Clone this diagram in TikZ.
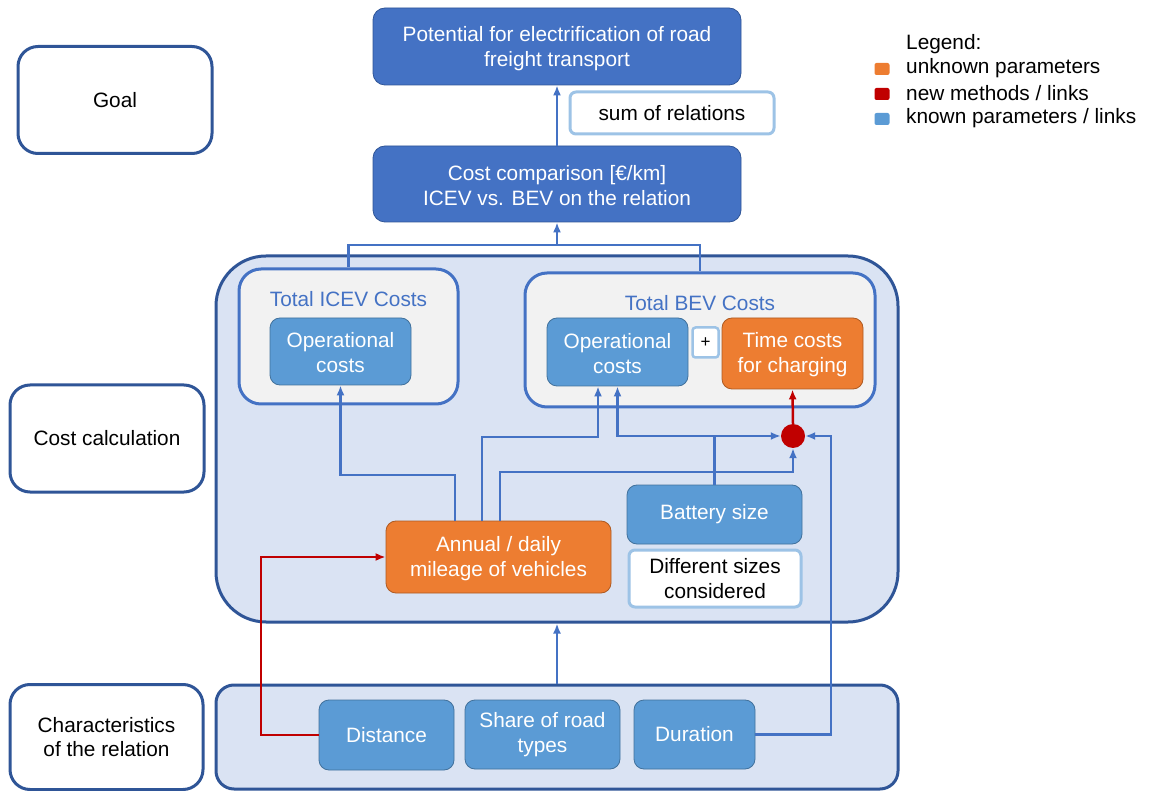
\documentclass[tikz,border=0pt]{standalone}
\usepackage{fontspec}
\setmainfont{Liberation Sans}
\usetikzlibrary{arrows.meta,calc}
\definecolor{dkblue}{HTML}{2F5597}
\definecolor{midblue}{HTML}{4472C4}
\definecolor{ltblue}{HTML}{5B9BD5}
\definecolor{opborder}{HTML}{41719C}
\definecolor{orng}{HTML}{ED7D31}
\definecolor{orborder}{HTML}{AE5A21}
\definecolor{panelfill}{HTML}{DAE3F3}
\definecolor{paleblue}{HTML}{9DC3E6}
\definecolor{grayfill}{HTML}{F2F2F2}
\definecolor{rd}{HTML}{C00000}
\begin{document}
\begin{tikzpicture}[x=1pt,y=-1pt,
  font=\fontsize{20.8}{24.8}\selectfont,
  base/.style={rectangle, align=center, inner sep=0pt},
  lbl/.style={base, draw=dkblue, line width=3pt, fill=white, rounded corners=20pt},
  goalbox/.style={base, fill=midblue, draw=dkblue, line width=0.8pt, text=white, rounded corners=12pt},
  note/.style={base, fill=white, draw=paleblue, line width=3pt, rounded corners=6pt},
  panel/.style={base, fill=panelfill, draw=dkblue, line width=3pt},
  group/.style={base, fill=grayfill, draw=midblue, line width=3pt, rounded corners=22pt},
  known/.style={base, fill=ltblue, draw=opborder, line width=0.8pt, text=white, rounded corners=10pt},
  unknown/.style={base, fill=orng, draw=orborder, line width=0.8pt, text=white, rounded corners=10pt},
  conn/.style={draw=midblue, line width=2.5pt},
  arr/.style={conn, -{Latex[length=10pt,width=8pt]}},
  redarr/.style={draw=rd, line width=2.5pt, -{Latex[length=10pt,width=8pt]}},
  legsq/.style={base, rounded corners=2pt, minimum width=15pt, minimum height=12pt},
  legtxt/.style={anchor=west, inner sep=0pt}
]
\useasboundingbox (0,0) rectangle (1149,791);

% left labels
\node[lbl, minimum width=194pt, minimum height=107pt] (goal) at (115,100) {Goal};
\node[lbl, minimum width=194pt, minimum height=107pt] (costlbl) at (107,438.5) {Cost calculation};
\node[lbl, minimum width=193pt, minimum height=105pt] (charlbl) at (106.5,737) {Characteristics\\of the relation};

% goal level
\node[goalbox, minimum width=368pt, minimum height=77pt] (potential) at (557,46.5) {\rule{0pt}{20pt}Potential for electrification of road\\freight transport};
\node[note, minimum width=204pt, minimum height=42pt] (sum) at (672,113) {sum of relations};
\node[goalbox, minimum width=368pt, minimum height=76pt] (comparison) at (557,184) {\rule{0pt}{18pt}Cost comparison [€/km]\\ICEV vs. BEV on the relation};

% panels
\node[panel, rounded corners=50pt, minimum width=682pt, minimum height=366pt] (costpanel) at (557,439) {};
\node[panel, rounded corners=18pt, minimum width=682pt, minimum height=104pt] (charpanel) at (557,737) {};

% groups
\node[group, minimum width=219pt, minimum height=135pt] (icev) at (348.5,336.5) {};
\node[text=midblue] (icevt) at (348.5,299) {Total ICEV Costs};
\node[known, minimum width=141pt, minimum height=67pt] (icevop) at (340.5,351.5) {\rule{0pt}{18pt}Operational\\costs};

\node[group, minimum width=350pt, minimum height=134pt] (bev) at (700,340) {};
\node[text=midblue] (bevt) at (700,303) {Total BEV Costs};
\node[known, minimum width=141pt, minimum height=68pt] (bevop) at (617.5,352) {\rule{0pt}{18pt}Operational\\costs};
\node[note, rounded corners=3pt, line width=2.5pt, minimum width=26pt, minimum height=30pt, font=\fontsize{17}{20}\selectfont] (plus) at (705.5,342.5) {+};
\node[unknown, minimum width=141pt, minimum height=71pt] (timecost) at (792.5,353.5) {\rule{0pt}{18pt}Time costs\\for charging};

% inner nodes
\node[circle, fill=rd, minimum size=24pt, inner sep=0pt] (dot) at (793,436) {};
\node[unknown, minimum width=225pt, minimum height=72pt] (mileage) at (498.5,557) {\rule{0pt}{18pt}Annual / daily\\mileage of vehicles};
\node[known, minimum width=175pt, minimum height=59pt] (battery) at (714.5,514.5) {Battery size};
\node[note, minimum width=172pt, minimum height=57pt] (sizes) at (715,578.5) {Different sizes\\considered};

% characteristics
\node[known, minimum width=135pt, minimum height=70pt] (distance) at (386.5,735) {Distance};
\node[known, minimum width=155pt, minimum height=69pt] (share) at (542.5,734.5) {Share of road\\types};
\node[known, minimum width=121pt, minimum height=69pt] (duration) at (694.5,734.5) {Duration};

% connectors
\draw[arr] (comparison.north) -- (potential.south);
\coordinate (join) at (557,245);
\draw[conn] (icev.north) |- (join) -| (bev.north);
\draw[arr] (join) -- (comparison.south);
\draw[arr] (charpanel.north) -- (costpanel.south);

\coordinate (m1) at (455,521);
\coordinate (m2) at (482,521);
\coordinate (m3) at (500,521);
\draw[arr] (m1) |- (icevop.south |- 0,475) -- (icevop.south);
\coordinate (b1) at (598,437);
\draw[arr] (m2) |- (b1) -- (b1 |- bevop.south);
\draw[arr] (m3) |- (dot.south |- 0,472) -- (dot.south);
\coordinate (bj) at (battery.north |- dot.west);
\draw[conn] (battery.north) -- (bj);
\draw[arr] (bj) -| (bevop.south);
\draw[arr] (bj) -- (dot.west);
\draw[arr] (duration.east) -| (831,436) -- (dot.east);
\draw[redarr] (dot.north) -- (timecost.south);
\draw[redarr] (distance.west) -| (261,557) -- (mileage.west);

% legend
\node[legtxt] (legt) at (906,44) {Legend:};
\node[legsq, fill=orng] (lg1) at (882,69) {};
\node[legtxt] (lt1) at (906,68) {unknown parameters};
\node[legsq, fill=rd] (lg2) at (882,94) {};
\node[legtxt] (lt2) at (906,93) {new methods / links};
\node[legsq, fill=ltblue] (lg3) at (882,119) {};
\node[legtxt] (lt3) at (906,118) {known parameters / links};
\end{tikzpicture}
\end{document}
